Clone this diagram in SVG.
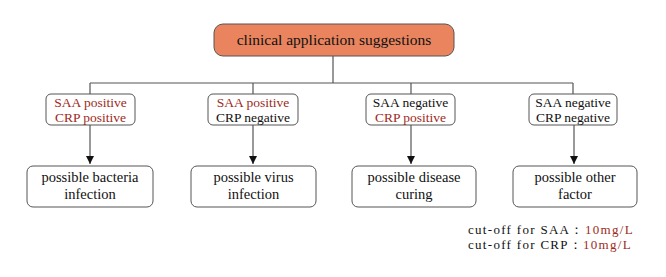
<svg xmlns="http://www.w3.org/2000/svg" width="666" height="277" viewBox="0 0 666 277" font-family="'Liberation Serif', 'DejaVu Serif', serif">
<style>
text{font-family:'Liberation Serif','DejaVu Serif',serif;fill:#111}
.r{fill:#9e2a1b}
.k{fill:#111}
.n{font-size:13.5px}
.b{font-size:14.5px}
.box{fill:#fff;stroke:#555;stroke-width:1}
.ln{stroke:#555;stroke-width:1.2;fill:none}
.c{font-size:13px;letter-spacing:1.3px}
</style>
<defs>
<marker id="ah" viewBox="0 0 10 10" refX="10" refY="5" markerWidth="8" markerHeight="8" markerUnits="userSpaceOnUse" orient="auto">
<path d="M0,0 L10,5 L0,10 z" fill="#111"/>
</marker>
</defs>
<g id="connectors">
<path class="ln" d="M333,56 V83 M90,83 H573 M90,83 V94 M253,83 V94 M411,83 V94 M573,83 V94"/>
<path class="ln" d="M90,125 V164" marker-end="url(#ah)"/>
<path class="ln" d="M253,125 V164" marker-end="url(#ah)"/>
<path class="ln" d="M411,125 V164" marker-end="url(#ah)"/>
<path class="ln" d="M574,125 V164" marker-end="url(#ah)"/>
</g>
<g id="root">
<rect x="214" y="24" width="240" height="32" rx="9" fill="#e9845e" stroke="#555" stroke-width="1"/>
<text x="334" y="45" text-anchor="middle" font-size="15.5">clinical application suggestions</text>
</g>
<g id="c1">
<rect class="box" x="46" y="94" width="89" height="31" rx="5"/>
<text class="n r" x="90.5" y="106.5" text-anchor="middle">SAA positive</text>
<text class="n r" x="90.5" y="121.5" text-anchor="middle">CRP positive</text>
</g>
<g id="c2">
<rect class="box" x="208" y="94" width="90" height="31" rx="5"/>
<text class="n r" x="253" y="106.5" text-anchor="middle">SAA positive</text>
<text class="n k" x="253" y="121.5" text-anchor="middle">CRP negative</text>
</g>
<g id="c3">
<rect class="box" x="366" y="94" width="89" height="31" rx="5"/>
<text class="n k" x="410.5" y="106.5" text-anchor="middle">SAA negative</text>
<text class="n r" x="410.5" y="121.5" text-anchor="middle">CRP positive</text>
</g>
<g id="c4">
<rect class="box" x="529" y="94" width="88" height="31" rx="5"/>
<text class="n k" x="573" y="106.5" text-anchor="middle">SAA negative</text>
<text class="n k" x="573" y="121.5" text-anchor="middle">CRP negative</text>
</g>
<g id="o1">
<rect class="box" x="27" y="166" width="126" height="41" rx="6"/>
<text class="b" x="90" y="182" text-anchor="middle">possible bacteria</text>
<text class="b" x="90" y="199" text-anchor="middle">infection</text>
</g>
<g id="o2">
<rect class="box" x="191" y="166" width="125" height="41" rx="6"/>
<text class="b" x="253.5" y="182" text-anchor="middle">possible virus</text>
<text class="b" x="253.5" y="199" text-anchor="middle">infection</text>
</g>
<g id="o3">
<rect class="box" x="352" y="166" width="124" height="41" rx="6"/>
<text class="b" x="414" y="182" text-anchor="middle">possible disease</text>
<text class="b" x="414" y="199" text-anchor="middle">curing</text>
</g>
<g id="o4">
<rect class="box" x="513" y="166" width="124" height="41" rx="6"/>
<text class="b" x="575" y="182" text-anchor="middle">possible other</text>
<text class="b" x="575" y="199" text-anchor="middle">factor</text>
</g>
<g id="note">
<text class="c" x="468" y="234">cut-off for SAA：<tspan class="r" x="585">10mg/L</tspan></text>
<text class="c" x="468" y="249">cut-off for CRP：<tspan class="r" x="583">10mg/L</tspan></text>
</g>
</svg>
